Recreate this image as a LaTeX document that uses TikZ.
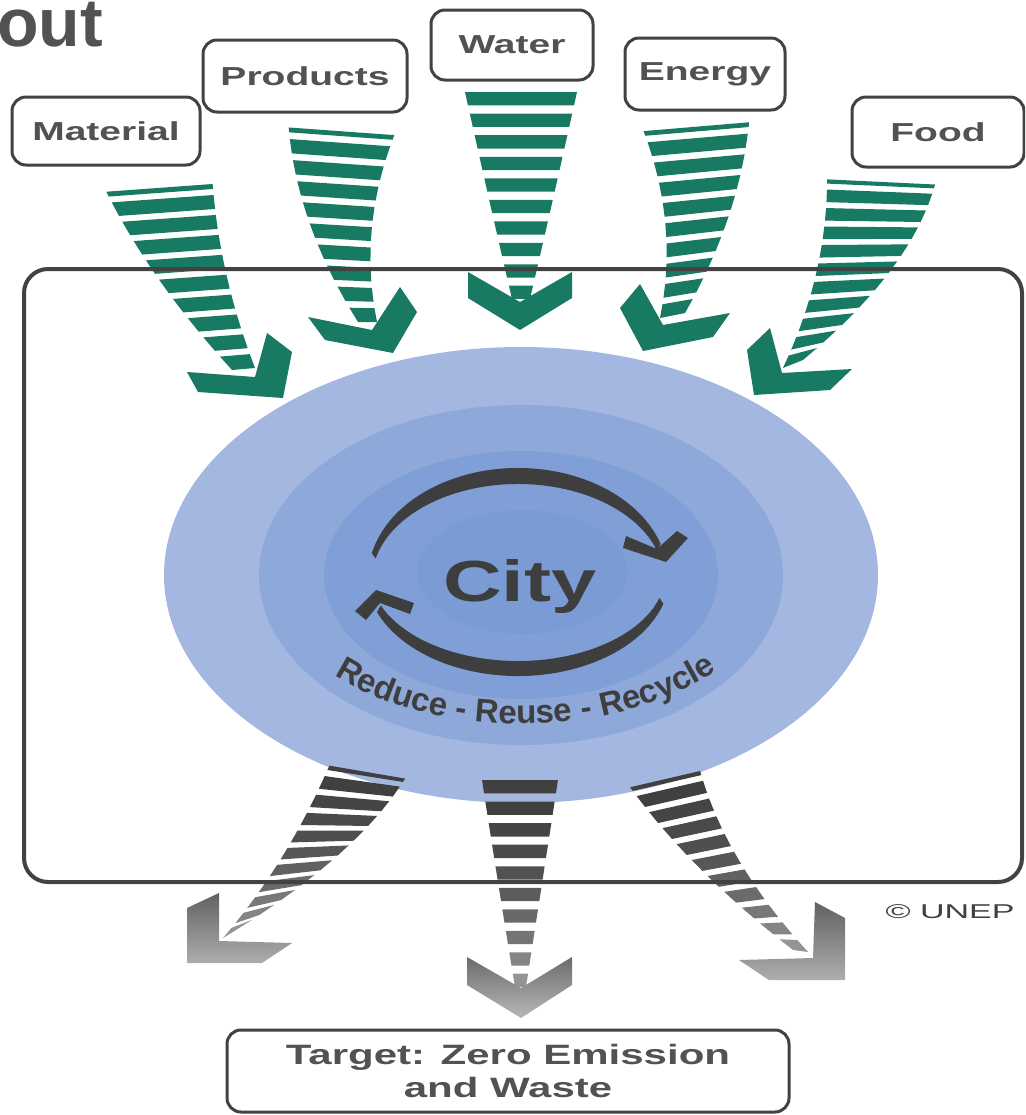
\documentclass[tikz,border=0pt]{standalone}
\usepackage{fontspec}
\setmainfont{Liberation Sans}
\usepackage{graphicx}
\usetikzlibrary{calc,decorations.text}

\definecolor{flowgreen}{RGB}{24,122,98}
\definecolor{labelgray}{RGB}{82,82,82}
\definecolor{framegray}{RGB}{66,66,66}
\definecolor{cyclegray}{RGB}{62,62,62}
\definecolor{outerblue}{RGB}{163,183,225}
\definecolor{midblue}{RGB}{142,168,218}
\definecolor{innerblue}{RGB}{128,159,214}
\definecolor{coreblue}{RGB}{123,155,212}

% stretched text, as in the slide
\newcommand{\wide}[2][1.5]{\scalebox{#1}[1]{#2}}

% striped flow between the curves (l0)-(lm)-(l1) and (r0)-(rm)-(r1)
% #1 stripes, #2 filled part, #3 cut of first stripe, #4 colour, #5 start tone, #6 fading
\newcommand{\flow}[6]{%
  \pgfmathsetmacro\stepw{1/(#1-1+#2)}%
  \foreach \i in {1,...,#1}{%
    \pgfmathsetmacro\ta{(\i-1+(\i==1)*#3)*\stepw}%
    \pgfmathsetmacro\tb{(\i-1+#2)*\stepw}%
    \pgfmathtruncatemacro\tone{#5-#6*\tb*\tb}%
    \fill[#4!\tone]
      ($ {(1-\ta)^2}*(l0) + {2*\ta*(1-\ta)}*(lm) + {\ta^2}*(l1) $) --
      ($ {(1-\ta)^2}*(r0) + {2*\ta*(1-\ta)}*(rm) + {\ta^2}*(r1) $) --
      ($ {(1-\tb)^2}*(r0) + {2*\tb*(1-\tb)}*(rm) + {\tb^2}*(r1) $) --
      ($ {(1-\tb)^2}*(l0) + {2*\tb*(1-\tb)}*(lm) + {\tb^2}*(l1) $) -- cycle;
  }%
}

% arrow head: tip, outer end, inner end, notch, inner end, outer end
\newcommand{\chevron}[7]{\path[#7] (#1) -- (#2) -- (#3) -- (#4) -- (#5) -- (#6) -- cycle;}

\begin{document}
\begin{tikzpicture}[x=0.5pt,y=-0.5pt]
\tikzstyle{every node}+=[inner sep=0pt, text=labelgray, font=\bfseries]
\tikzstyle{tag}=[draw=framegray, line width=1.5pt, rounded corners=7pt, fill=white, font=\fontsize{13}{15}\selectfont\bfseries]
\useasboundingbox (0,0) rectangle (1025,1115);
\clip (0,0) rectangle (1025,1115);

% city
\fill[outerblue] (521,575) ellipse [x radius=357, y radius=228];
\fill[midblue] (521,575) ellipse [x radius=262, y radius=170];
\fill[innerblue] (521,575) ellipse [x radius=197, y radius=124];
\fill[coreblue] (522,572) ellipse [x radius=105, y radius=62];
\node[anchor=base, text=cyclegray, font=\fontsize{29}{30}\selectfont\bfseries] (city) at (520,601) {\wide[1.4]{City}};

% cycle arrows
\fill[cyclegray] (518,578) ++(193:150 and 110) arc[start angle=193, end angle=342, x radius=150, y radius=110]
  -- ($(518,580)+(342:146 and 96)$) arc[start angle=342, end angle=193, x radius=146, y radius=96] -- cycle;
\chevron{666,562}{688,538}{677,531}{657,549}{626,536}{623,548}{fill=cyclegray}
\fill[cyclegray] (518,574) ++(17:152 and 102) arc[start angle=17, end angle=158, x radius=152, y radius=102]
  -- ($(518,572)+(158:148 and 89)$) arc[start angle=158, end angle=17, x radius=148, y radius=89] -- cycle;
\chevron{376,590}{414,603}{410,614}{380,603}{366,620}{355,611}{fill=cyclegray}

\path[decorate, decoration={text along path, text align=center, text color=cyclegray,
  text={|\fontsize{16.5}{17}\selectfont\bfseries|Reduce - Reuse - Recycle}}]
  (294,642) arc[start angle=152, end angle=25, x radius=258, y radius=154];

% inputs
\coordinate (l0) at (102,183); \coordinate (lm) at (147,277); \coordinate (l1) at (232,370);
\coordinate (r0) at (212,175); \coordinate (rm) at (218,272); \coordinate (r1) at (255,368);
\flow{10}{.7}{.45}{flowgreen}{100}{0}
\chevron{283,398}{292,352}{267,333}{255,377}{187,372}{198,392}{fill=flowgreen}

\coordinate (l0) at (288,118); \coordinate (lm) at (294,220); \coordinate (l1) at (358,322);
\coordinate (r0) at (398,126); \coordinate (rm) at (357,224); \coordinate (r1) at (377,322);
\flow{10}{.68}{.45}{flowgreen}{100}{0}
\chevron{393,353}{417,312}{400,287}{372,330}{308,317}{325,340}{fill=flowgreen}

\coordinate (l0) at (465,92); \coordinate (lm) at (488,196); \coordinate (l1) at (512,299);
\coordinate (r0) at (577,92); \coordinate (rm) at (554,196); \coordinate (r1) at (530,299);
\flow{10}{.62}{0}{flowgreen}{100}{0}
\chevron{520,330}{572,298}{572,272}{520,302}{468,272}{468,298}{fill=flowgreen}

\coordinate (l0) at (640,122); \coordinate (lm) at (680,220); \coordinate (l1) at (660,318);
\coordinate (r0) at (750,113); \coordinate (rm) at (742,213); \coordinate (r1) at (685,313);
\flow{10}{.68}{.45}{flowgreen}{100}{0}
\chevron{643,351}{620,308}{640,284}{663,325}{730,313}{713,337}{fill=flowgreen}

\coordinate (l0) at (827,171); \coordinate (lm) at (829,270); \coordinate (l1) at (783,368);
\coordinate (r0) at (937,177); \coordinate (rm) at (916,266); \coordinate (r1) at (803,360);
\flow{11}{.68}{.45}{flowgreen}{100}{0}
\chevron{754,395}{830,390}{852,369}{782,373}{770,328}{747,350}{fill=flowgreen}

% outputs
\coordinate (l0) at (333,757); \coordinate (lm) at (290,860); \coordinate (l1) at (223,938);
\coordinate (r0) at (409,772); \coordinate (rm) at (364,850); \coordinate (r1) at (236,930);
\flow{11}{.68}{.45}{black}{76}{34}
\chevron{187,963}{262,963}{292,943}{219,941}{219,893}{187,908}{top color=black!62, bottom color=black!32}

\coordinate (l0) at (482,780); \coordinate (lm) at (498,884); \coordinate (l1) at (515,987);
\coordinate (r0) at (558,780); \coordinate (rm) at (542,884); \coordinate (r1) at (526,987);
\flow{10}{.62}{0}{black}{76}{34}
\chevron{521,1018}{572,985}{572,957}{521,988}{467,957}{467,985}{top color=black!58, bottom color=black!28}

\coordinate (l0) at (625,780); \coordinate (lm) at (685,866); \coordinate (l1) at (793,950);
\coordinate (r0) at (698,763); \coordinate (rm) at (722,858); \coordinate (r1) at (808,952);
\flow{11}{.68}{.45}{black}{76}{34}
\chevron{845,980}{769,980}{739,960}{813,958}{815,902}{845,918}{top color=black!62, bottom color=black!32}

% frame
\draw[framegray, line width=2pt, rounded corners=12pt] (24,269) rectangle (1022,882);

% labels
\node[anchor=base west, font=\fontsize{34}{36}\selectfont\bfseries] (title) at (-3,46) {out};
\node[tag, minimum width=94pt, minimum height=34pt] (material) at (106,131) {\wide{Material}};
\node[tag, minimum width=102pt, minimum height=36pt] (products) at (305,76) {\wide{Products}};
\node[tag, minimum width=81pt, minimum height=35pt] (water) at (512,45) {\wide{Water}};
\node[tag, minimum width=80pt, minimum height=36pt] (energy) at (705,74) {\wide{Energy}};
\node[tag, minimum width=86pt, minimum height=35pt] (food) at (938,132) {\wide{Food}};
\node[tag, minimum width=281pt, minimum height=41pt, align=center, font=\fontsize{14}{16.5}\selectfont\bfseries] (target) at (508,1071) {\wide{Target: Zero Emission}\\\wide{and Waste}};
\node[font=\fontsize{10}{11}\selectfont, text=black!75] (unep) at (950,912) {\wide[1.7]{© UNEP}};
\end{tikzpicture}
\end{document}
